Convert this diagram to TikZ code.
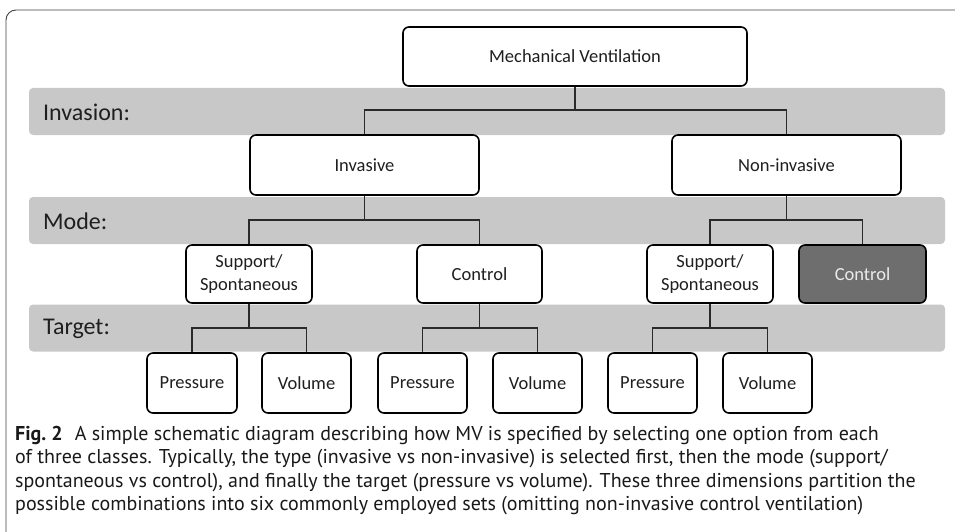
\documentclass[tikz,border=0pt]{standalone}
\usepackage{fontspec}
\setmainfont{Carlito}
\newfontfamily\capfont{PT Sans}
\usetikzlibrary{positioning}
\definecolor{bandgray}{HTML}{C8C8C8}
\definecolor{darkbox}{HTML}{6E6E6E}
\definecolor{linegray}{HTML}{2A2A2A}
\tikzset{
  box/.style={draw=black, line width=1.6pt, rounded corners=6pt, fill=white, align=center,
    font=\fontsize{18.5}{22.5}\selectfont, text=black!88, inner sep=0pt},
  darkb/.style={box, fill=darkbox, text=white!92!black},
  band/.style={fill=bandgray, rounded corners=4pt, inner sep=0pt, minimum width=916pt, minimum height=47pt},
  bandlabel/.style={anchor=west, font=\fontsize{24}{28}\selectfont, text=black!88, inner sep=0pt},
  conn/.style={draw=linegray, line width=1.3pt},
  caption/.style={anchor=base west, inner sep=0pt, font=\capfont\fontsize{20}{23}\selectfont, text=black!90},
  frame/.style={draw=black!75, line width=0.9pt, rounded corners=10pt}
}
\begin{document}
\begin{tikzpicture}[x=1pt,y=-1pt]
\useasboundingbox (0,0) rectangle (955,532);
\draw[frame] (6,540) -- (6,10) -- (960,10);
% bands
\node[band] (bandinv) at (487,111.5) {};
\node[band] (bandmode) at (487,220.5) {};
\node[band] (bandtgt) at (487,328) {};
\node[bandlabel] (linv) at (43,112) {Invasion:};
\node[bandlabel] (lmode) at (43,221) {Mode:};
\node[bandlabel] (ltgt) at (43,329) {Target:};
% level 0
\node[box, minimum width=344pt, minimum height=59pt] (mv) at (575,56.5) {Mechanical Ventilation};
% level 1
\node[box, minimum width=229pt, minimum height=60pt] (inv) at (364.5,165) {Invasive};
\node[box, minimum width=229pt, minimum height=60pt] (non) at (786.5,165) {Non-invasive};
% level 2
\node[box, minimum width=126pt, minimum height=58pt] (sup1) at (249,274) {Support/\\Spontaneous};
\node[box, minimum width=125pt, minimum height=58pt] (ctl1) at (479.5,274) {Control};
\node[box, minimum width=126pt, minimum height=58pt] (sup2) at (710,274) {Support/\\Spontaneous};
\node[darkb, minimum width=127pt, minimum height=58pt] (ctl2) at (862.5,274) {Control};
% level 3
\node[box, minimum width=90pt, minimum height=60pt] (p1) at (192,383) {Pressure};
\node[box, minimum width=89pt, minimum height=60pt] (v1) at (306.5,383) {Volume};
\node[box, minimum width=89pt, minimum height=60pt] (p2) at (422.5,383) {Pressure};
\node[box, minimum width=89pt, minimum height=60pt] (v2) at (537.5,383) {Volume};
\node[box, minimum width=89pt, minimum height=60pt] (p3) at (652.5,383) {Pressure};
\node[box, minimum width=89pt, minimum height=60pt] (v3) at (767.5,383) {Volume};
% junctions
\coordinate (j0) at (575,110);
\coordinate (j1) at (364.5,220);
\coordinate (j2) at (786.5,220);
\coordinate (j3) at (249,328);
\coordinate (j4) at (479.5,328);
\coordinate (j5) at (710,328);
% connectors
\draw[conn] (mv.south) -- (j0);
\draw[conn] (inv.north) |- (j0) -| (non.north);
\draw[conn] (inv.south) -- (j1);
\draw[conn] (sup1.north) |- (j1) -| (ctl1.north);
\draw[conn] (non.south) -- (j2);
\draw[conn] (sup2.north) |- (j2) -| (ctl2.north);
\draw[conn] (sup1.south) -- (j3);
\draw[conn] (p1.north) |- (j3) -| (v1.north);
\draw[conn] (ctl1.south) -- (j4);
\draw[conn] (p2.north) |- (j4) -| (v2.north);
\draw[conn] (sup2.south) -- (j5);
\draw[conn] (p3.north) |- (j5) -| (v3.north);
% caption
\node[caption] (cap1) at (15,440) {\textbf{Fig.~2}\hspace{0.6em}A simple schematic diagram describing how MV is specified by selecting one option from each};
\node[caption] (cap2) at (15,463) {of three classes. Typically, the type (invasive vs non-invasive) is selected first, then the mode (support/};
\node[caption] (cap3) at (15,487) {spontaneous vs control), and finally the target (pressure vs volume). These three dimensions partition the};
\node[caption] (cap4) at (15,510) {possible combinations into six commonly employed sets (omitting non-invasive control ventilation)};
\end{tikzpicture}
\end{document}
